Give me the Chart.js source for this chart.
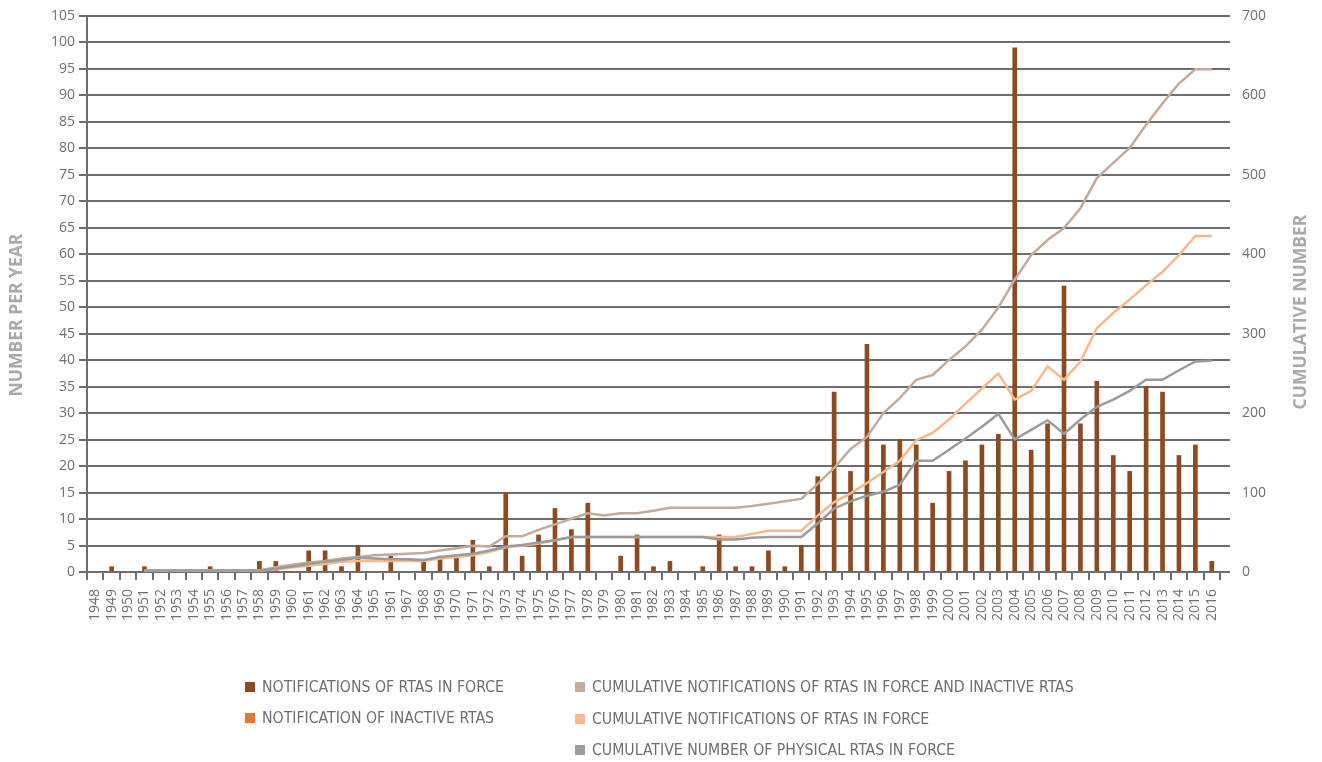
<!DOCTYPE html>
<html>
<head>
<meta charset="utf-8">
<script src="https://cdn.jsdelivr.net/npm/chart.js@4.4.1/dist/chart.umd.min.js"></script>
<style>
  body { margin: 0; background: #fff; }
  #wrap { position: relative; width: 1322px; height: 762px; }
  #legend { position: absolute; left: 0; top: 0; width: 1322px; height: 762px; pointer-events: none;
            font-family: "DejaVu Sans Condensed", "DejaVu Sans", sans-serif; font-size: 15.7px; color: #6d6e71; }
  .item { position: absolute; white-space: nowrap; line-height: 18px; }
  .sw { display: inline-block; width: 10px; height: 10px; margin-right: 7px; vertical-align: 0px; }
</style>
</head>
<body>
<div id="wrap">
  <canvas id="myChart" width="1322" height="762"></canvas>
  <div id="legend"></div>
</div>
<script>
// years on the x axis (the source repeats "1961" in place of 1966)
const years = ['1948','1949','1950','1951','1952','1953','1954','1955','1956','1957','1958','1959','1960',
  '1961','1962','1963','1964','1965','1961','1967','1968','1969','1970','1971','1972','1973','1974','1975',
  '1976','1977','1978','1979','1980','1981','1982','1983','1984','1985','1986','1987','1988','1989','1990',
  '1991','1992','1993','1994','1995','1996','1997','1998','1999','2000','2001','2002','2003','2004','2005',
  '2006','2007','2008','2009','2010','2011','2012','2013','2014','2015','2016'];

// per year (left axis)
const inForce = [0,1,0,1,0,0,0,1,0,0,2,2,0,4,4,1,5,0,3,0,2,3,3,6,1,15,3,7,12,8,13,0,3,7,1,2,0,1,7,1,1,4,1,
  5,18,34,19,43,24,25,24,13,19,21,24,26,99,23,28,54,28,36,22,19,35,34,22,24,2];
const inactive = [0,0,0,0,0,0,0,0,0,0,0,0,0,0,0,0,0,0,0,0,0,0,0,0,0,0,0,0,0,0,0,0,0,0,0,0,0,0,0,0,0,0,0,
  0,0,0,0,0,0,0,0,0,0,0,0,0,0,0,0,0,0,0,0,0,0,0,0,0,0];

// cumulative (right axis)
const cumAll = [null,null,null,2,2,2,2,2,2,2,2,6,9,12,14,17,19,21,22,23,24,27,30,33,32,45,45,53,60,67,74,71,
  74,74,77,81,81,81,81,81,83,86,89,92,111,131,155,170,200,219,242,248,267,284,305,333,368,399,418,433,458,
  496,515,534,563,590,615,633,633];
const cumInForce = [null,null,null,2,2,2,2,2,2,2,2,3,6,8,10,13,14,14,14,14,14,17,19,21,25,31,33,36,40,44,44,
  44,44,44,44,44,44,44,44,44,48,52,52,52,71,88,99,112,126,140,166,175,192,212,231,250,217,228,259,242,265,
  307,326,343,361,378,399,423,423];
const cumPhysical = [null,null,null,2,2,2,2,2,2,2,2,4,7,10,13,15,18,17,16,16,15,19,21,23,27,32,34,37,40,44,44,
  44,44,44,44,44,44,44,41,41,43,44,44,44,61,80,89,96,101,110,140,140,154,168,183,199,167,179,191,174,192,
  208,217,228,242,242,254,265,266];

const rightLabels = [0, 100, 200, 300, 400, 500, 600, 700];
const gridSteps = 21;

const gridColor = '#6d6e71';
const tickFont = { family: 'Open Sans', size: 14 };

const axisTitles = {
  id: 'axisTitles',
  afterDraw(chart) {
    const ctx = chart.ctx;
    [['NUMBER PER YEAR', 17, 315], ['CUMULATIVE NUMBER', 1301, 312]].forEach(t => {
      ctx.save();
      ctx.font = 'bold 17.5px "Open Sans"';
      ctx.fillStyle = '#a7a9ac';
      ctx.textAlign = 'center';
      ctx.textBaseline = 'middle';
      ctx.translate(t[1], t[2]);
      ctx.rotate(-Math.PI / 2);
      ctx.fillText(t[0], 0, 0);
      ctx.restore();
    });
  }
};

const ctx = document.getElementById('myChart').getContext('2d');
const myChart = new Chart(ctx, {
  type: 'bar',
  data: {
    labels: years,
    datasets: [
      { label: 'NOTIFICATIONS OF RTAS IN FORCE', data: inForce, backgroundColor: '#8b4a1f',
        yAxisID: 'y', barThickness: 4, grouped: false, order: 10 },
      { label: 'NOTIFICATION OF INACTIVE RTAS', data: inactive, backgroundColor: '#e5762f',
        yAxisID: 'y', barThickness: 4, grouped: false, order: 11 },
      { type: 'line', label: 'CUMULATIVE NOTIFICATIONS OF RTAS IN FORCE AND INACTIVE RTAS', data: cumAll,
        borderColor: '#c3aa99', backgroundColor: '#c3aa99', yAxisID: 'y1', order: 3 },
      { type: 'line', label: 'CUMULATIVE NOTIFICATIONS OF RTAS IN FORCE', data: cumInForce,
        borderColor: '#f6b98b', backgroundColor: '#f6b98b', yAxisID: 'y1', order: 2 },
      { type: 'line', label: 'CUMULATIVE NUMBER OF PHYSICAL RTAS IN FORCE', data: cumPhysical,
        borderColor: '#9b9b9b', backgroundColor: '#9b9b9b', yAxisID: 'y1', order: 1 }
    ]
  },
  options: {
    responsive: false,
    animation: false,
    layout: { padding: { top: 16, bottom: 112 } },
    elements: {
      line: { borderWidth: 2.5, tension: 0 },
      point: { radius: 0 }
    },
    plugins: { legend: { display: false }, tooltip: { enabled: false } },
    scales: {
      x: {
        grid: { offset: true, drawOnChartArea: false, color: gridColor, lineWidth: 2, tickLength: 8 },
        border: { color: gridColor, width: 2 },
        ticks: { color: gridColor, font: tickFont, minRotation: 90, maxRotation: 90, autoSkip: false, padding: 9 },
        afterFit(scale) { scale.height = 78; }
      },
      y: {
        position: 'left',
        min: 0, max: 105,
        grid: { color: gridColor, lineWidth: 2, tickLength: 8 },
        border: { color: gridColor, width: 2 },
        ticks: { stepSize: 5, color: gridColor, font: tickFont, padding: 4 },
        afterFit(scale) { scale.width = 87; scale.paddingTop = 0; scale.paddingBottom = 0; }
      },
      y1: {
        position: 'right',
        min: 0, max: 700,
        grid: { drawOnChartArea: false, color: gridColor, lineWidth: 2, tickLength: 10 },
        border: { display: false },
        afterBuildTicks(scale) {
          const t = [];
          for (let i = 0; i <= gridSteps; i++) t.push({ value: i * 700 / gridSteps });
          scale.ticks = t;
        },
        ticks: {
          color: gridColor, font: tickFont, padding: 12,
          callback(v) {
            const r = Math.round(v);
            return rightLabels.includes(r) && Math.abs(v - r) < 1e-6 ? r : '';
          }
        },
        afterFit(scale) { scale.width = 102; scale.paddingTop = 0; scale.paddingBottom = 0; }
      }
    }
  },
  plugins: [axisTitles]
});

// legend in two columns, built from the datasets
const pos = [[245, 687], [245, 718], [575, 687], [575, 719], [575, 750]];
const legend = document.getElementById('legend');
myChart.data.datasets.forEach((ds, i) => {
  const el = document.createElement('div');
  el.className = 'item';
  el.style.left = pos[i][0] + 'px';
  el.style.top = (pos[i][1] - 9) + 'px';
  el.innerHTML = '<span class="sw" style="background:' + ds.backgroundColor + '"></span>' + ds.label;
  legend.appendChild(el);
});
</script>
</body>
</html>
